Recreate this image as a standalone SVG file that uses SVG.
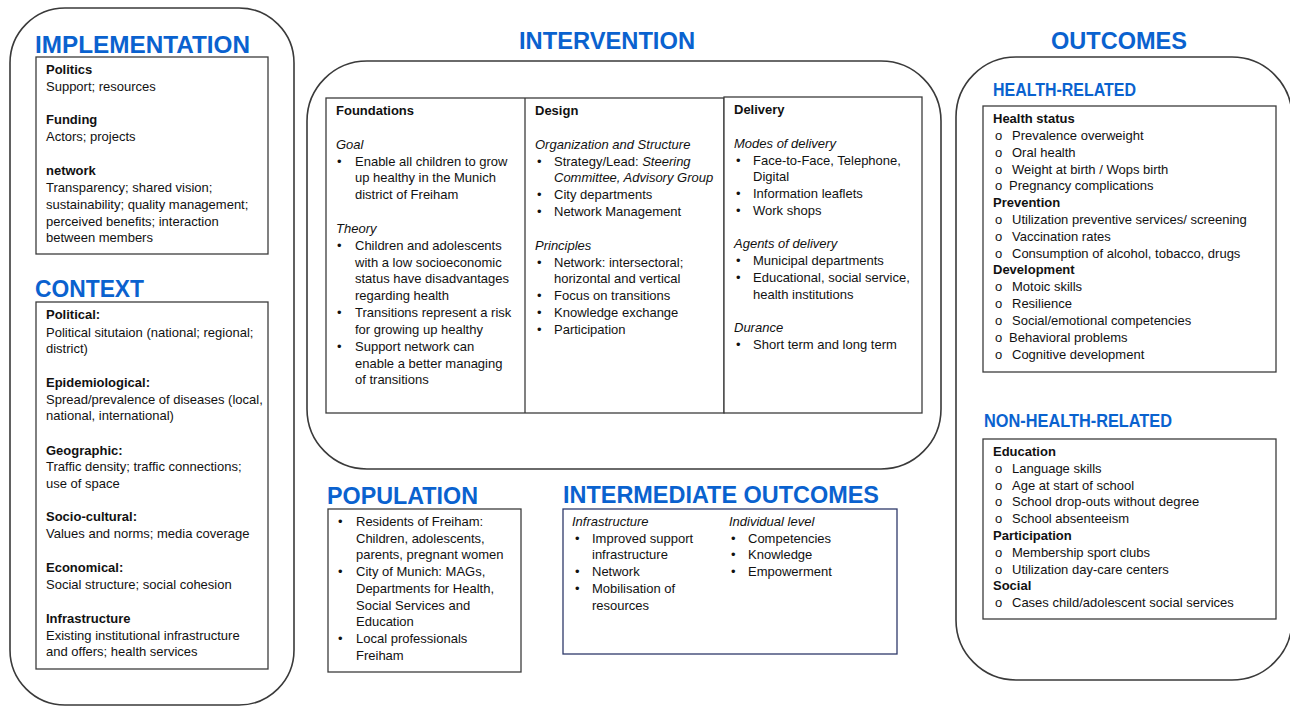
<svg xmlns="http://www.w3.org/2000/svg" width="1290" height="706" viewBox="0 0 1290 706">
<style>
.frame{fill:none;stroke:#3a3a3a;stroke-width:1.6}
.box{fill:#fff;stroke:#3c3c3c;stroke-width:1.3}
.ttl{font-family:"Liberation Sans",Arial,sans-serif;font-weight:bold;fill:#0A62CF;font-size:24px}
.sub{font-family:"Liberation Sans",Arial,sans-serif;font-weight:bold;fill:#0A62CF;font-size:18px}
.b{font-family:"Liberation Sans",Arial,sans-serif;font-size:13px;fill:#111}
.h{font-weight:bold}
.i{font-style:italic}
</style>
<rect width="1290" height="706" fill="#fff"/>

<g id="implementation-context">
<rect class="frame" x="10" y="8" width="284" height="697" rx="55"/>
<text class="ttl" x="35" y="53" font-size="25" textLength="215" lengthAdjust="spacingAndGlyphs">IMPLEMENTATION</text>
<rect class="box" x="36" y="57" width="232" height="197"/>
<text class="b" x="46">
<tspan class="h" x="46" y="74">Politics</tspan>
<tspan x="46" y="91">Support; resources</tspan>
<tspan class="h" x="46" y="124">Funding</tspan>
<tspan x="46" y="141">Actors; projects</tspan>
<tspan class="h" x="46" y="175">network</tspan>
<tspan x="46" y="192">Transparency; shared vision;</tspan>
<tspan x="46" y="209">sustainability; quality management;</tspan>
<tspan x="46" y="226">perceived benefits; interaction</tspan>
<tspan x="46" y="242">between members</tspan>
</text>
<text class="ttl" x="35" y="297" textLength="109" lengthAdjust="spacingAndGlyphs">CONTEXT</text>
<rect class="box" x="36" y="302" width="232" height="367"/>
<text class="b">
<tspan class="h" x="46" y="319">Political:</tspan>
<tspan x="46" y="337">Political situtaion (national; regional;</tspan>
<tspan x="46" y="353">district)</tspan>
<tspan class="h" x="46" y="387">Epidemiological:</tspan>
<tspan x="46" y="404">Spread/prevalence of diseases (local,</tspan>
<tspan x="46" y="420">national, international)</tspan>
<tspan class="h" x="46" y="455">Geographic:</tspan>
<tspan x="46" y="471">Traffic density; traffic connections;</tspan>
<tspan x="46" y="488">use of space</tspan>
<tspan class="h" x="46" y="521">Socio-cultural:</tspan>
<tspan x="46" y="538">Values and norms; media coverage</tspan>
<tspan class="h" x="46" y="572">Economical:</tspan>
<tspan x="46" y="589">Social structure; social cohesion</tspan>
<tspan class="h" x="46" y="623">Infrastructure</tspan>
<tspan x="46" y="640">Existing institutional infrastructure</tspan>
<tspan x="46" y="656">and offers; health services</tspan>
</text>
</g>

<g id="intervention">
<text class="ttl" x="519" y="49" textLength="176" lengthAdjust="spacingAndGlyphs">INTERVENTION</text>
<rect class="frame" x="307" y="61" width="634" height="408" rx="60"/>
<rect class="box" x="326" y="98" width="398" height="315"/>
<line class="box" x1="525" y1="98" x2="525" y2="413"/>
<rect class="box" x="724" y="97" width="198" height="316"/>
<text class="b">
<tspan class="h" x="336" y="115">Foundations</tspan>
<tspan class="i" x="336" y="149">Goal</tspan>
<tspan x="337" y="166">•</tspan><tspan x="355" y="166">Enable all children to grow</tspan>
<tspan x="355" y="182">up healthy in the Munich</tspan>
<tspan x="355" y="199">district of Freiham</tspan>
<tspan class="i" x="336" y="233">Theory</tspan>
<tspan x="337" y="250">•</tspan><tspan x="355" y="250">Children and adolescents</tspan>
<tspan x="355" y="267">with a low socioeconomic</tspan>
<tspan x="355" y="283">status have disadvantages</tspan>
<tspan x="355" y="300">regarding health</tspan>
<tspan x="337" y="317">•</tspan><tspan x="355" y="317">Transitions represent a risk</tspan>
<tspan x="355" y="334">for growing up healthy</tspan>
<tspan x="337" y="351">•</tspan><tspan x="355" y="351">Support network can</tspan>
<tspan x="355" y="368">enable a better managing</tspan>
<tspan x="355" y="384">of transitions</tspan>
</text>
<text class="b">
<tspan class="h" x="535" y="115">Design</tspan>
<tspan class="i" x="535" y="149">Organization and Structure</tspan>
<tspan x="537" y="166">•</tspan><tspan x="554" y="166">Strategy/Lead: </tspan><tspan class="i">Steering</tspan>
<tspan class="i" x="554" y="182">Committee, Advisory Group</tspan>
<tspan x="537" y="199">•</tspan><tspan x="554" y="199">City departments</tspan>
<tspan x="537" y="216">•</tspan><tspan x="554" y="216">Network Management</tspan>
<tspan class="i" x="535" y="250">Principles</tspan>
<tspan x="537" y="267">•</tspan><tspan x="554" y="267">Network: intersectoral;</tspan>
<tspan x="554" y="283">horizontal and vertical</tspan>
<tspan x="537" y="300">•</tspan><tspan x="554" y="300">Focus on transitions</tspan>
<tspan x="537" y="317">•</tspan><tspan x="554" y="317">Knowledge exchange</tspan>
<tspan x="537" y="334">•</tspan><tspan x="554" y="334">Participation</tspan>
</text>
<text class="b">
<tspan class="h" x="734" y="114">Delivery</tspan>
<tspan class="i" x="734" y="148">Modes of delivery</tspan>
<tspan x="736" y="165">•</tspan><tspan x="753" y="165">Face-to-Face, Telephone,</tspan>
<tspan x="753" y="181">Digital</tspan>
<tspan x="736" y="198">•</tspan><tspan x="753" y="198">Information leaflets</tspan>
<tspan x="736" y="215">•</tspan><tspan x="753" y="215">Work shops</tspan>
<tspan class="i" x="734" y="248">Agents of delivery</tspan>
<tspan x="736" y="265">•</tspan><tspan x="753" y="265">Municipal departments</tspan>
<tspan x="736" y="282">•</tspan><tspan x="753" y="282">Educational, social service,</tspan>
<tspan x="753" y="299">health institutions</tspan>
<tspan class="i" x="734" y="332">Durance</tspan>
<tspan x="736" y="349">•</tspan><tspan x="753" y="349">Short term and long term</tspan>
</text>
</g>

<g id="population">
<text class="ttl" x="327" y="504" textLength="151" lengthAdjust="spacingAndGlyphs">POPULATION</text>
<rect class="box" x="328" y="509" width="193" height="163"/>
<text class="b">
<tspan x="338" y="526">•</tspan><tspan x="356" y="526">Residents of Freiham:</tspan>
<tspan x="356" y="543">Children, adolescents,</tspan>
<tspan x="356" y="559">parents, pregnant women</tspan>
<tspan x="338" y="576">•</tspan><tspan x="356" y="576">City of Munich: MAGs,</tspan>
<tspan x="356" y="593">Departments for Health,</tspan>
<tspan x="356" y="610">Social Services and</tspan>
<tspan x="356" y="626">Education</tspan>
<tspan x="338" y="643">•</tspan><tspan x="356" y="643">Local professionals</tspan>
<tspan x="356" y="660">Freiham</tspan>
</text>
</g>

<g id="intermediate-outcomes">
<text class="ttl" x="563" y="503" textLength="316" lengthAdjust="spacingAndGlyphs">INTERMEDIATE OUTCOMES</text>
<rect class="box" x="563" y="509" width="334" height="145" style="stroke:#2E3A6A"/>
<text class="b">
<tspan class="i" x="572" y="526">Infrastructure</tspan>
<tspan x="575" y="543">•</tspan><tspan x="592" y="543">Improved support</tspan>
<tspan x="592" y="559">infrastructure</tspan>
<tspan x="575" y="576">•</tspan><tspan x="592" y="576">Network</tspan>
<tspan x="575" y="593">•</tspan><tspan x="592" y="593">Mobilisation of</tspan>
<tspan x="592" y="610">resources</tspan>
<tspan class="i" x="729" y="526">Individual level</tspan>
<tspan x="731" y="543">•</tspan><tspan x="748" y="543">Competencies</tspan>
<tspan x="731" y="559">•</tspan><tspan x="748" y="559">Knowledge</tspan>
<tspan x="731" y="576">•</tspan><tspan x="748" y="576">Empowerment</tspan>
</text>
</g>

<g id="outcomes">
<text class="ttl" x="1051" y="49" textLength="136" lengthAdjust="spacingAndGlyphs">OUTCOMES</text>
<rect class="frame" x="956" y="57" width="336" height="623" rx="60"/>
<text class="sub" x="993" y="96" textLength="143" lengthAdjust="spacingAndGlyphs">HEALTH-RELATED</text>
<rect class="box" x="983" y="106" width="293" height="266"/>
<text class="b">
<tspan class="h" x="993" y="123">Health status</tspan>
<tspan x="995" y="140">o</tspan><tspan x="1012" y="140">Prevalence overweight</tspan>
<tspan x="995" y="157">o</tspan><tspan x="1012" y="157">Oral health</tspan>
<tspan x="995" y="174">o</tspan><tspan x="1012" y="174">Weight at birth / Wops birth</tspan>
<tspan x="995" y="190">o</tspan><tspan x="1009" y="190">Pregnancy complications</tspan>
<tspan class="h" x="993" y="207">Prevention</tspan>
<tspan x="995" y="224">o</tspan><tspan x="1012" y="224">Utilization preventive services/ screening</tspan>
<tspan x="995" y="241">o</tspan><tspan x="1012" y="241">Vaccination rates</tspan>
<tspan x="995" y="258">o</tspan><tspan x="1012" y="258">Consumption of alcohol, tobacco, drugs</tspan>
<tspan class="h" x="993" y="274">Development</tspan>
<tspan x="995" y="291">o</tspan><tspan x="1012" y="291">Motoic skills</tspan>
<tspan x="995" y="308">o</tspan><tspan x="1012" y="308">Resilience</tspan>
<tspan x="995" y="325">o</tspan><tspan x="1012" y="325">Social/emotional competencies</tspan>
<tspan x="995" y="342">o</tspan><tspan x="1009" y="342">Behavioral problems</tspan>
<tspan x="995" y="359">o</tspan><tspan x="1012" y="359">Cognitive development</tspan>
</text>
<text class="sub" x="984" y="427" textLength="188" lengthAdjust="spacingAndGlyphs">NON-HEALTH-RELATED</text>
<rect class="box" x="983" y="439" width="293" height="180"/>
<text class="b">
<tspan class="h" x="993" y="456">Education</tspan>
<tspan x="995" y="473">o</tspan><tspan x="1012" y="473">Language skills</tspan>
<tspan x="995" y="490">o</tspan><tspan x="1012" y="490">Age at start of school</tspan>
<tspan x="995" y="506">o</tspan><tspan x="1012" y="506">School drop-outs without degree</tspan>
<tspan x="995" y="523">o</tspan><tspan x="1012" y="523">School absenteeism</tspan>
<tspan class="h" x="993" y="540">Participation</tspan>
<tspan x="995" y="557">o</tspan><tspan x="1012" y="557">Membership sport clubs</tspan>
<tspan x="995" y="574">o</tspan><tspan x="1012" y="574">Utilization day-care centers</tspan>
<tspan class="h" x="993" y="590">Social</tspan>
<tspan x="995" y="607">o</tspan><tspan x="1012" y="607">Cases child/adolescent social services</tspan>
</text>
</g>

<g id="connectors"></g>
</svg>
